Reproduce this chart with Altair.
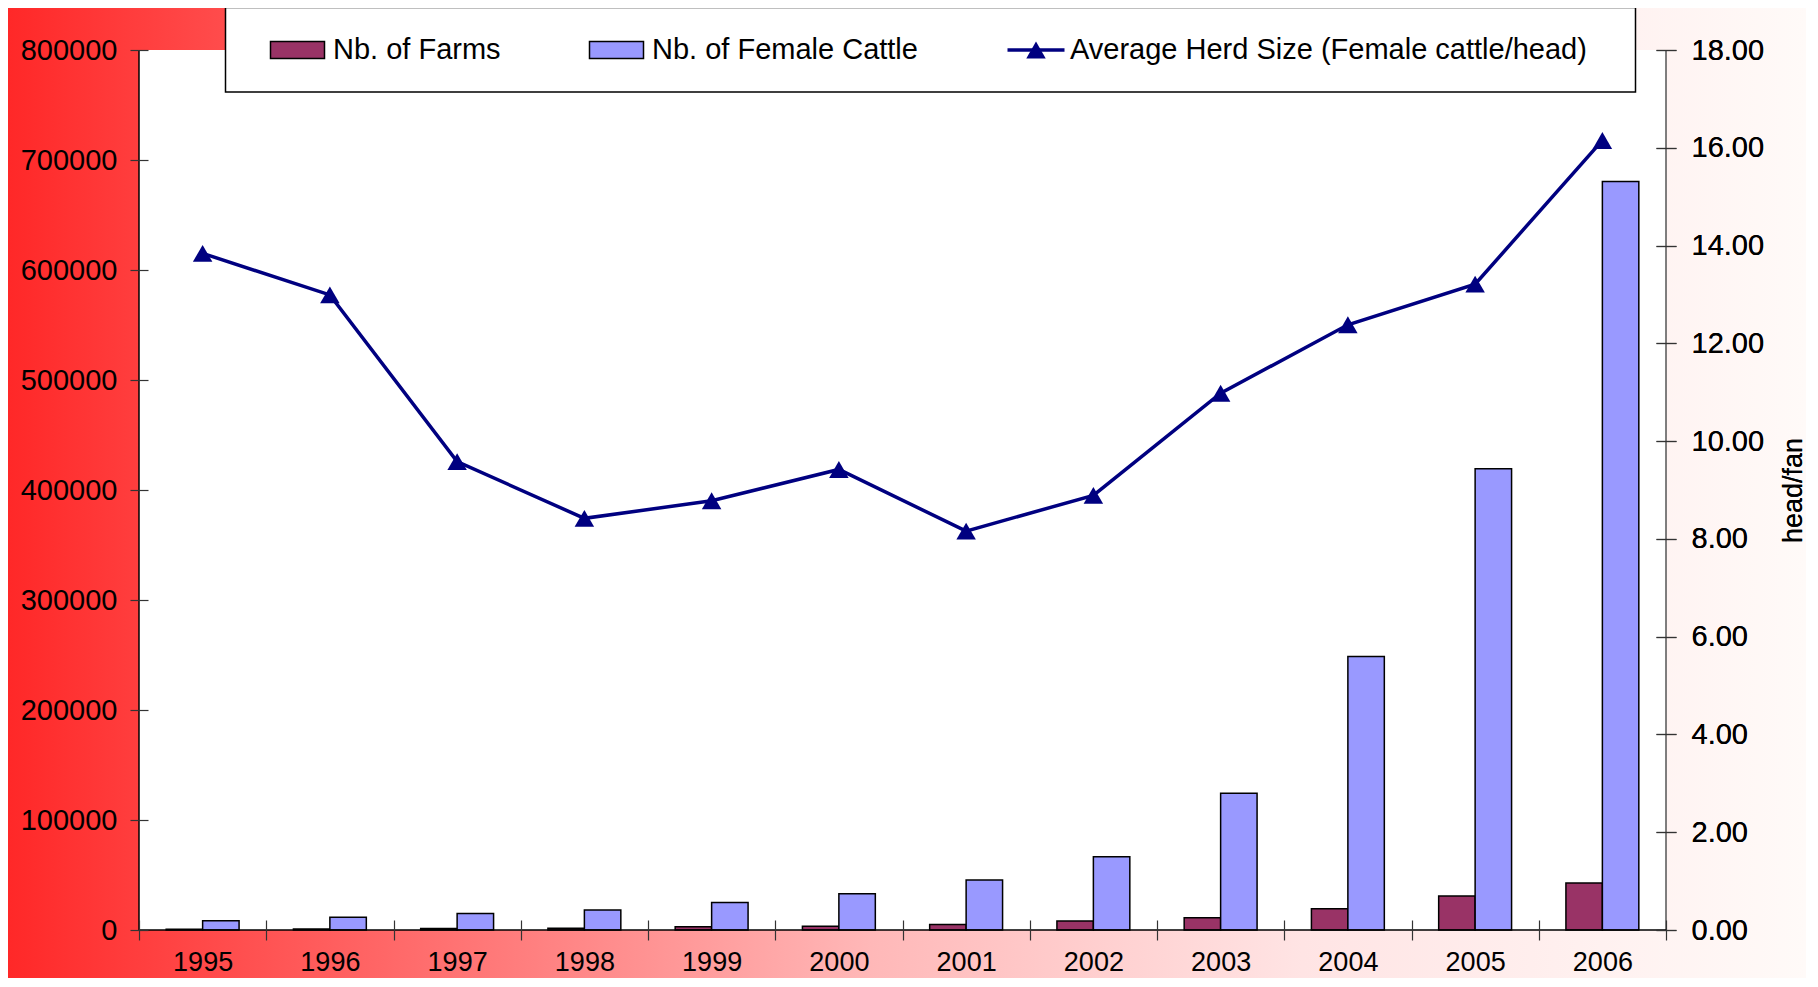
import altair as alt
import pandas as pd

years = ["1995", "1996", "1997", "1998", "1999", "2000", "2001", "2002", "2003", "2004", "2005", "2006"]
farms = [600, 1000, 1300, 1500, 2900, 3400, 5000, 8200, 11200, 19400, 30900, 42700]
cattle = [8500, 11500, 15100, 18200, 25100, 33000, 45500, 66600, 124400, 248700, 419300, 680400]
herd = [13.84, 12.99, 9.58, 8.42, 8.78, 9.42, 8.16, 8.89, 10.98, 12.38, 13.21, 16.15]

s_farms = "Nb. of Farms"
s_cattle = "Nb. of Female Cattle"
s_herd = "Average Herd Size (Female cattle/head)"
left_ticks = [0, 100000, 200000, 300000, 400000, 500000, 600000, 700000, 800000]
right_ticks = [0, 2, 4, 6, 8, 10, 12, 14, 16, 18]

FONT = "Liberation Sans"
W, H = 1527, 880
PAD = {"left": 131, "top": 42, "right": 140, "bottom": 48}

bars_df = pd.DataFrame(
    [{"year": y, "series": s_farms, "value": v} for y, v in zip(years, farms)]
    + [{"year": y, "series": s_cattle, "value": v} for y, v in zip(years, cattle)]
)
line_df = pd.DataFrame({"year": years, "herd": herd})
one = pd.DataFrame({"k": [0]})

xenc = alt.X(
    "year:N",
    sort=years,
    scale=alt.Scale(paddingInner=0, paddingOuter=0),
    axis=alt.Axis(
        title=None, labelAngle=0, domain=False, tickBand="extent", zindex=1,
        tickSize=20, offset=-10, labelPadding=9, labelFontSize=27,
        labelFont=FONT, labelColor="black", tickColor="#333333", tickWidth=1.2,
    ),
)

bg = alt.Chart(one).mark_rect(
    color=alt.Gradient(
        gradient="linear",
        stops=[
            alt.GradientStop(color="#ff2828", offset=0),
            alt.GradientStop(color="#ff6a6a", offset=0.22),
            alt.GradientStop(color="#ffb8b8", offset=0.48),
            alt.GradientStop(color="#ffe4e4", offset=0.72),
            alt.GradientStop(color="#fffaf8", offset=1),
        ],
        x1=0, x2=1, y1=0, y2=0,
    )
).encode(
    x=alt.value(-PAD["left"]), x2=alt.value(W + PAD["right"]),
    y=alt.value(-PAD["top"]), y2=alt.value(H + PAD["bottom"]),
)

plotbg = alt.Chart(one).mark_rect(color="white").encode(
    x=alt.value(0), x2=alt.value(W), y=alt.value(0), y2=alt.value(H)
)

bars = alt.Chart(bars_df).mark_bar(stroke="black", strokeWidth=1.5).encode(
    x=xenc,
    xOffset=alt.XOffset(
        "series:N",
        scale=alt.Scale(domain=[s_farms, s_cattle], paddingInner=0, paddingOuter=0.7455),
    ),
    y=alt.Y(
        "value:Q",
        scale=alt.Scale(domain=[0, 800000], nice=False),
        axis=alt.Axis(
            orient="left", values=left_ticks, format="d", domain=False, grid=False, zindex=1,
            tickSize=18, offset=-9, labelPadding=13, title=None,
            labelFontSize=29, labelFont=FONT, labelColor="black", tickColor="#333333", tickWidth=1.2,
        ),
    ),
    color=alt.Color("series:N", scale=alt.Scale(domain=[s_farms, s_cattle], range=["#993366", "#9999ff"]), legend=None),
)

yr = alt.Y(
    "herd:Q",
    scale=alt.Scale(domain=[0, 18], nice=False),
    axis=alt.Axis(
        orient="right", values=right_ticks, format=".2f", domain=False, grid=False, zindex=1,
        tickSize=20, offset=-10, labelPadding=15,
        labelFontSize=29, labelFont=FONT, labelColor="black", tickColor="#333333", tickWidth=1.2,
        title="head/fan", titleAngle=270, titleX=137, titleY=H / 2, titleAlign="center",
        titleBaseline="middle", titleFontSize=27, titleFont=FONT, titleFontWeight="normal", titleColor="black",
    ),
)

line = alt.Chart(line_df).mark_line(color="#000080", strokeWidth=3.5).encode(x=xenc, y=yr)
pts = alt.Chart(line_df).mark_point(shape="triangle-up", filled=True, size=380, color="#000080", opacity=1).encode(x=xenc, y=yr)

rule_left = alt.Chart(one).mark_rule(color="black", strokeWidth=1.5).encode(
    x=alt.value(0), y=alt.value(0), y2=alt.value(H))
rule_right = alt.Chart(one).mark_rule(color="#555555", strokeWidth=1.5).encode(
    x=alt.value(W), y=alt.value(0), y2=alt.value(H))
rule_bottom = alt.Chart(one).mark_rule(color="black", strokeWidth=1.5).encode(
    x=alt.value(0), x2=alt.value(W), y=alt.value(H))

# legend box
leg_box = alt.Chart(one).mark_rect(fill="white", stroke="black", strokeWidth=1.5).encode(
    x=alt.value(86.5), x2=alt.value(1496.5), y=alt.value(-42.5), y2=alt.value(42))
sw1 = alt.Chart(one).mark_rect(fill="#993366", stroke="black", strokeWidth=1.5).encode(
    x=alt.value(131.5), x2=alt.value(185.5), y=alt.value(-8.5), y2=alt.value(8.5))
sw2 = alt.Chart(one).mark_rect(fill="#9999ff", stroke="black", strokeWidth=1.5).encode(
    x=alt.value(450.5), x2=alt.value(504.5), y=alt.value(-8.5), y2=alt.value(8.5))
lg_line = alt.Chart(one).mark_rule(color="#000080", strokeWidth=3.5).encode(
    x=alt.value(868.5), x2=alt.value(925.5), y=alt.value(0))
lg_pt = alt.Chart(one).mark_point(shape="triangle-up", filled=True, size=380, color="#000080", opacity=1).encode(
    x=alt.value(897), y=alt.value(0))

def ltext(x, s):
    return alt.Chart(one).mark_text(
        align="left", baseline="middle", font=FONT, fontSize=29, color="black"
    ).encode(x=alt.value(x), y=alt.value(0), text=alt.value(s))

chart = alt.layer(
    bg, plotbg, bars, line, pts, rule_left, rule_right, rule_bottom,
    leg_box, sw1, sw2, lg_line, lg_pt,
    ltext(194, s_farms), ltext(513, s_cattle), ltext(931, s_herd),
).resolve_scale(y="independent").properties(
    width=W, height=H, padding=PAD, autosize=alt.AutoSizeParams(type="none"),
).configure_view(stroke=None)

chart.save("out.html", embed_options={"renderer": "svg", "actions": False})
